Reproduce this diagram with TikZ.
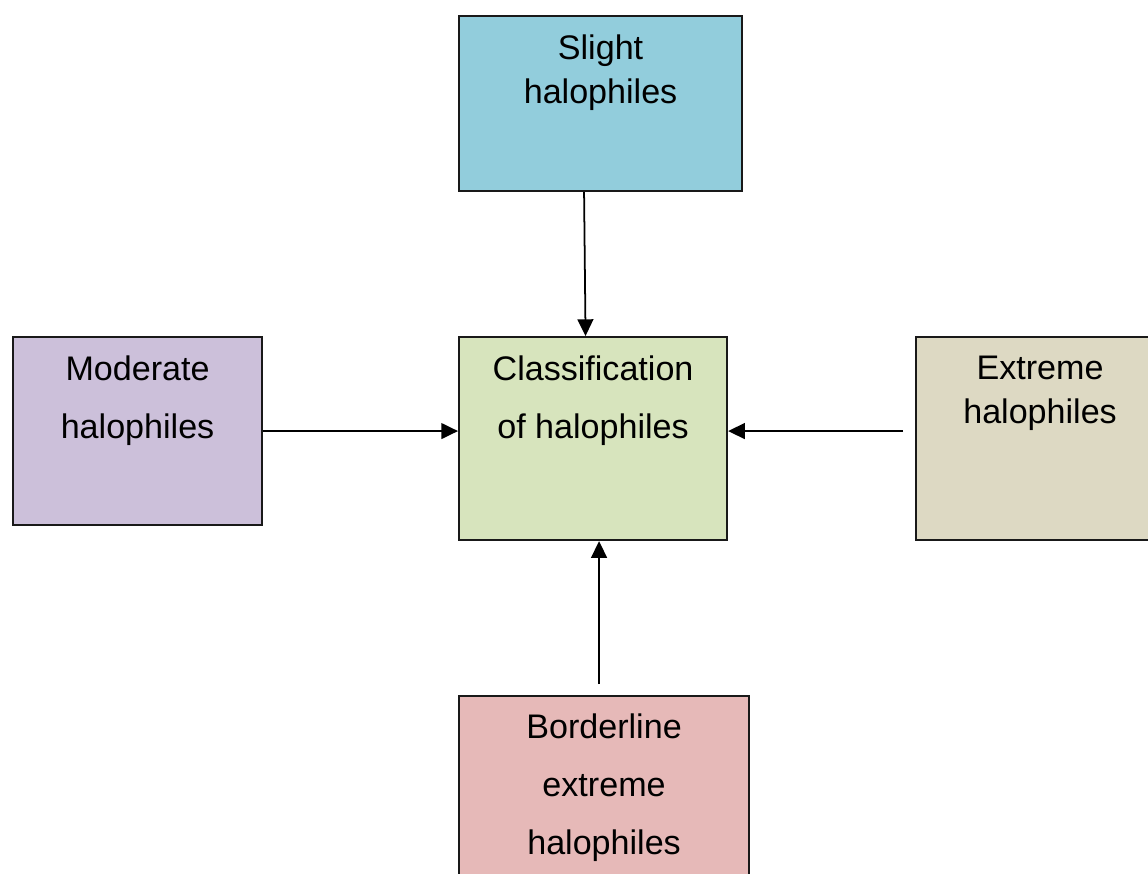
\documentclass[tikz,border=0pt]{standalone}
\usepackage{fontspec}
\setmainfont{Liberation Sans}
\usetikzlibrary{arrows.meta}

\definecolor{slightc}{HTML}{92CDDC}
\definecolor{moderatec}{HTML}{CCC0DA}
\definecolor{classc}{HTML}{D7E4BD}
\definecolor{extremec}{HTML}{DDD9C3}
\definecolor{borderc}{HTML}{E6B9B8}
\tikzstyle{box} = [draw=black!90, line width=1.2pt, inner sep=0pt, anchor=north west]
\tikzstyle{txt} = [align=center, anchor=base, inner sep=0pt, font=\fontsize{19.4}{33}\selectfont]
\tikzstyle{tight} = [font=\fontsize{19.4}{25}\selectfont]
\tikzstyle{arr} = [line width=1pt, -{Triangle[length=9.5pt,width=9pt]}]

\begin{document}
\begin{tikzpicture}
	\useasboundingbox (0,0) rectangle (22.96,-17.46);
	\clip (0,0) rectangle (22.96,-17.46);
	\node[box, fill=slightc, minimum width=5.66cm, minimum height=3.50cm] (slight) at (9.16,-0.30) {};
	\node[box, fill=moderatec, minimum width=4.98cm, minimum height=3.76cm] (moderate) at (0.24,-6.72) {};
	\node[box, fill=classc, minimum width=5.36cm, minimum height=4.06cm] (class) at (9.16,-6.72) {};
	\node[box, fill=extremec, minimum width=4.96cm, minimum height=4.06cm] (extreme) at (18.30,-6.72) {};
	\node[box, fill=borderc, minimum width=5.80cm, minimum height=4.00cm] (border) at (9.16,-13.90) {};

	\node[txt, tight] (slighttxt) at ([yshift=-1.77cm]slight.north) {Slight\\halophiles};
	\node[txt] (moderatetxt) at ([yshift=-2.04cm]moderate.north) {Moderate\\halophiles};
	\node[txt] (classtxt) at ([yshift=-2.05cm]class.north) {Classification\\of halophiles};
	\node[txt, tight] (extremetxt) at ([yshift=-1.75cm]extreme.north) {Extreme\\halophiles};
	\node[txt] (bordertxt) at ([yshift=-3.19cm]border.north) {Borderline\\extreme\\halophiles};

	\draw[arr] ([xshift=-0.33cm]slight.south) -- ([xshift=-0.15cm]class.north);
	\draw[arr] (moderate.east) -- (moderate.east -| class.west);
	\draw[arr] ([shift={(-0.24,0.15)}]extreme.west) -- ([yshift=0.15cm]class.east);
	\draw[arr] ([shift={(-0.10,0.22)}]border.north) -- ([xshift=-0.10cm]border.north |- class.south);
\end{tikzpicture}
\end{document}
